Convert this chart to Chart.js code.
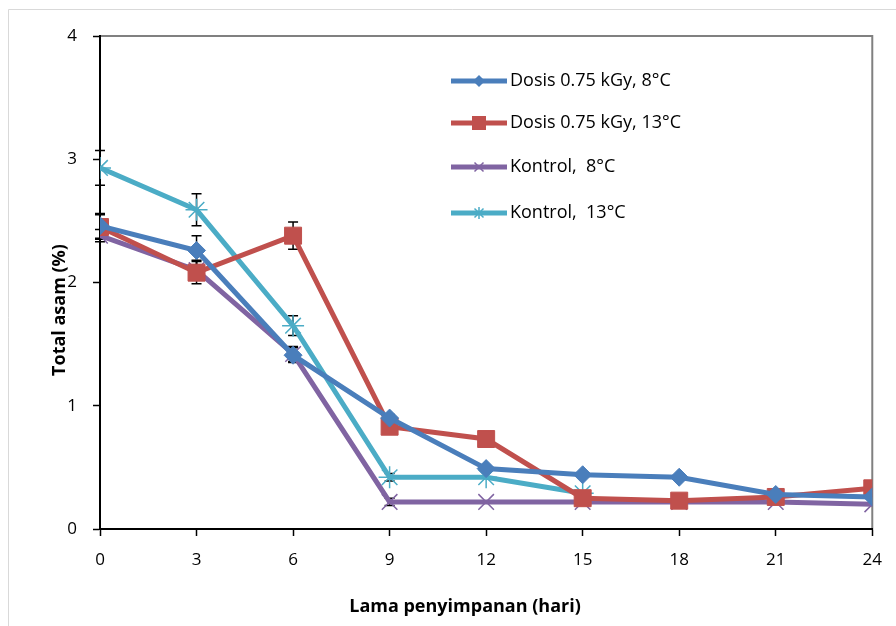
<!DOCTYPE html>
<html>
<head>
<meta charset="utf-8">
<script src="https://cdn.jsdelivr.net/npm/chart.js@4/dist/chart.umd.min.js"></script>
<style>
html,body{margin:0;padding:0;background:#fff;}
#wrap{width:896px;height:626px;position:relative;}
</style>
</head>
<body>
<div id="wrap"><canvas id="c" width="896" height="626"></canvas></div>
<script>
const days = [0, 3, 6, 9, 12, 15, 18, 21, 24];
const yTicks = [0, 1, 2, 3, 4];
const seriesNames = ["Dosis 0.75 kGy, 8°C", "Dosis 0.75 kGy, 13°C", "Kontrol,  8°C", "Kontrol,  13°C"];
const dosis8 = [2.46, 2.26, 1.41, 0.90, 0.49, 0.44, 0.42, 0.28, 0.26];
const dosis13 = [2.45, 2.08, 2.38, 0.83, 0.73, 0.25, 0.23, 0.26, 0.33];
const kontrol8 = [2.38, 2.10, 1.42, 0.22, 0.22, 0.22, 0.22, 0.22, 0.20];
const kontrol13 = [2.93, 2.59, 1.65, 0.42, 0.42, 0.29, null, null, null];
const dosis8Err = [0.10, 0.12, 0.06, 0.03, 0, 0, 0, 0, 0];
const dosis13Err = [0.10, 0.09, 0.11, 0, 0, 0, 0, 0, 0];
const kontrol8Err = [0.05, 0.08, 0.06, 0.03, 0, 0, 0, 0, 0];
const kontrol13Err = [0.14, 0.13, 0.08, 0.03, 0, 0, 0, 0, 0];
const xTitle = "Lama penyimpanan (hari)";
const yTitle = "Total asam (%)";

const colors = ["#4A7EBB", "#C0504D", "#8064A2", "#4BACC6"];
const styles = ["rectRot", "rect", "crossRot", "star"];
const radii = [9, 12, 11, 11];
const legendRadii = [6, 7, 6, 6];
const values = [dosis8, dosis13, kontrol8, kontrol13];
const errs = [dosis8Err, dosis13Err, kontrol8Err, kontrol13Err];

const FONT = "'Open Sans', sans-serif";

function pts(arr){ return days.map((d,i)=>({x:d, y:arr[i]})).filter(p=>p.y!==null); }

const datasets = values.map((v,i)=>({
  label: seriesNames[i],
  data: pts(v),
  errors: errs[i],
  legendRadius: legendRadii[i],
  borderColor: colors[i],
  backgroundColor: colors[i],
  borderWidth: 5,
  pointStyle: styles[i],
  pointRadius: radii[i],
  pointBorderWidth: (styles[i]==="crossRot"||styles[i]==="star") ? 1.5 : 1,
  pointBorderColor: colors[i],
  pointBackgroundColor: colors[i],
  tension: 0,
  fill: false
}));

function marker(ctx, style, r, x, y, color){
  ctx.save();
  ctx.fillStyle = color; ctx.strokeStyle = color; ctx.lineWidth = 1.5;
  ctx.beginPath();
  if(style==='rectRot'){
    ctx.moveTo(x, y-r); ctx.lineTo(x+r, y); ctx.lineTo(x, y+r); ctx.lineTo(x-r, y); ctx.closePath(); ctx.fill();
  } else if(style==='rect'){
    ctx.rect(x-r, y-r, 2*r, 2*r); ctx.fill();
  } else if(style==='crossRot'){
    const d = r*0.75;
    ctx.moveTo(x-d,y-d); ctx.lineTo(x+d,y+d); ctx.moveTo(x-d,y+d); ctx.lineTo(x+d,y-d); ctx.stroke();
  } else {
    const d = r*0.75;
    ctx.moveTo(x-d,y-d); ctx.lineTo(x+d,y+d); ctx.moveTo(x-d,y+d); ctx.lineTo(x+d,y-d);
    ctx.moveTo(x,y-r); ctx.lineTo(x,y+r); ctx.stroke();
  }
  ctx.restore();
}

const framePlugin = {
  id: 'frame',
  beforeDraw(chart){
    const ctx = chart.ctx;
    ctx.save();
    ctx.fillStyle = '#fff';
    ctx.fillRect(0,0,chart.width,chart.height);
    ctx.strokeStyle = '#d9d9d9';
    ctx.lineWidth = 1;
    ctx.beginPath();
    ctx.moveTo(8.5, chart.height);
    ctx.lineTo(8.5, 9.5);
    ctx.lineTo(chart.width, 9.5);
    ctx.stroke();
    const a = chart.chartArea;
    ctx.strokeStyle = '#808080';
    ctx.lineWidth = 2;
    ctx.strokeRect(a.left, a.top, a.right - a.left, a.bottom - a.top);
    ctx.restore();
  }
};

const errorPlugin = {
  id: 'errbars',
  beforeDatasetsDraw(chart){
    const ctx = chart.ctx;
    const xs = chart.scales.x, ys = chart.scales.y;
    ctx.save();
    ctx.strokeStyle = '#000';
    ctx.lineWidth = 1.5;
    chart.data.datasets.forEach(ds=>{
      ds.data.forEach(p=>{
        const e = ds.errors[days.indexOf(p.x)];
        if(!e) return;
        const x = xs.getPixelForValue(p.x);
        const y1 = ys.getPixelForValue(p.y + e);
        const y2 = ys.getPixelForValue(p.y - e);
        ctx.beginPath();
        ctx.moveTo(x, y1); ctx.lineTo(x, y2);
        ctx.moveTo(x-5, y1); ctx.lineTo(x+5, y1);
        ctx.moveTo(x-5, y2); ctx.lineTo(x+5, y2);
        ctx.stroke();
      });
    });
    ctx.restore();
  }
};

const overlayPlugin = {
  id: 'overlay',
  afterDraw(chart){
    const ctx = chart.ctx;
    ctx.save();
    const rows = [81, 123, 167, 213];
    ctx.font = "18px " + FONT;
    ctx.textBaseline = 'middle';
    ctx.textAlign = 'left';
    chart.data.datasets.forEach((ds,i)=>{
      const y = rows[i];
      ctx.strokeStyle = ds.borderColor;
      ctx.lineWidth = 5;
      ctx.beginPath();
      ctx.moveTo(451, y); ctx.lineTo(507, y);
      ctx.stroke();
      marker(ctx, ds.pointStyle, ds.legendRadius, 479, y, ds.borderColor);
      ctx.fillStyle = '#000';
      ctx.fillText(ds.label, 510, y);
    });
    ctx.fillStyle = '#000';
    ctx.font = "bold 18px " + FONT;
    ctx.textAlign = 'center';
    ctx.textBaseline = 'middle';
    ctx.fillText(xTitle, 465, 607);
    ctx.translate(60, 310);
    ctx.rotate(-Math.PI/2);
    ctx.fillText(yTitle, 0, 0);
    ctx.restore();
  }
};

new Chart(document.getElementById('c'), {
  type: 'line',
  data: { datasets },
  options: {
    responsive: false,
    animation: false,
    layout: { padding: { left: 0, right: 13, top: 36, bottom: 0 } },
    plugins: { legend: { display: false }, tooltip: { enabled: false } },
    scales: {
      x: {
        type: 'linear', min: 0, max: 24,
        afterBuildTicks(s){ s.ticks = days.map(v=>({value:v})); },
        afterFit(s){ s.height = 97; },
        grid: { drawOnChartArea: false, drawTicks: true, tickLength: 7, color: '#000', tickWidth: 1.5 },
        border: { color: '#000', width: 2 },
        ticks: { color: '#000', font: { family: FONT, size: 17 }, padding: 14, maxRotation: 0, autoSkip: false }
      },
      y: {
        type: 'linear', min: 0, max: 4,
        afterBuildTicks(s){ s.ticks = yTicks.map(v=>({value:v})); },
        afterFit(s){ s.width = 100; },
        grid: { drawOnChartArea: false, drawTicks: true, tickLength: 7, color: '#000', tickWidth: 1.5 },
        border: { color: '#000', width: 2 },
        ticks: { color: '#000', font: { family: FONT, size: 17 }, padding: 16 }
      }
    }
  },
  plugins: [framePlugin, errorPlugin, overlayPlugin]
});
</script>
</body>
</html>
